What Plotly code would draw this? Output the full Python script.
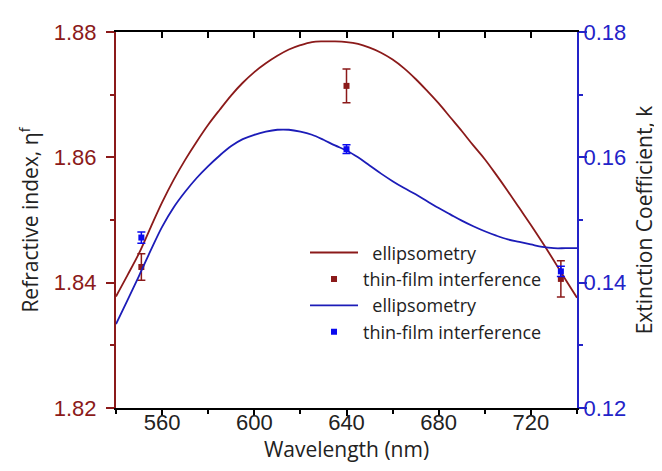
import plotly.graph_objects as go

# ---- data ----
wl = [540, 545, 550, 555, 560, 565, 570, 575, 580, 585, 590, 595, 600, 605, 610, 615,
      620, 625, 630, 635, 640, 645, 650, 655, 660, 665, 670, 675, 680, 685, 690, 695,
      700, 705, 710, 715, 720, 725, 730, 735, 740]
n_ellip = [1.8378, 1.8412, 1.8447, 1.8488, 1.8528, 1.8564, 1.8596, 1.8625, 1.8652, 1.8676,
           1.8699, 1.8719, 1.8736, 1.8750, 1.8762, 1.8772, 1.8779, 1.8784, 1.8785, 1.8785,
           1.8784, 1.8781, 1.8775, 1.8767, 1.8756, 1.8742, 1.8725, 1.8706, 1.8686, 1.8664,
           1.8642, 1.8619, 1.8597, 1.8572, 1.8546, 1.8519, 1.8492, 1.8464, 1.8435, 1.8405,
           1.8376]
k_ellip = [0.1334, 0.1372, 0.1411, 0.1451, 0.1489, 0.1520, 0.1545, 0.1567, 0.1586, 0.1603,
           0.1618, 0.1629, 0.1636, 0.1641, 0.1644, 0.1644, 0.1641, 0.1636, 0.1628, 0.1619,
           0.1611, 0.1600, 0.1587, 0.1574, 0.1562, 0.1551, 0.1541, 0.1530, 0.1519, 0.1509,
           0.1499, 0.1490, 0.1482, 0.1475, 0.1469, 0.1465, 0.1461, 0.1457, 0.1455, 0.1455,
           0.1455]

wl_tf = [551, 640, 733]
n_tf = [1.8425, 1.8714, 1.8406]
n_tf_err = [0.0021, 0.0027, 0.0029]
k_tf = [0.1472, 0.1613, 0.1418]
k_tf_err = [0.0009, 0.0007, 0.0008]

x_ticks = [560, 600, 640, 680, 720]
n_ticks = [1.82, 1.84, 1.86, 1.88]
k_ticks = [0.12, 0.14, 0.16, 0.18]

BROWN = "#8B1A1A"
BLUE_LINE = "#1C1CB8"
BLUE_MK = "#0A0AEE"
BLUE_AX = "#2323C8"
TXT = "#222222"

fig = go.Figure()
fig.add_trace(go.Scatter(x=wl, y=n_ellip, mode="lines", name="\u00a0\u00a0ellipsometry",
                         line=dict(color=BROWN, width=1.8, shape="spline"), yaxis="y"))
fig.add_trace(go.Scatter(x=wl_tf, y=n_tf, mode="markers", name="thin-film interference",
                         marker=dict(symbol="square", size=6, color=BROWN),
                         error_y=dict(type="data", array=n_tf_err, color=BROWN, thickness=1.5, width=4),
                         yaxis="y"))
fig.add_trace(go.Scatter(x=wl, y=k_ellip, mode="lines", name="\u00a0\u00a0ellipsometry",
                         line=dict(color=BLUE_LINE, width=1.8, shape="spline"), yaxis="y2"))
fig.add_trace(go.Scatter(x=wl_tf, y=k_tf, mode="markers", name="thin-film interference",
                         marker=dict(symbol="square", size=6, color=BLUE_MK),
                         error_y=dict(type="data", array=k_tf_err, color=BLUE_MK, thickness=1.5, width=4),
                         yaxis="y2"))
# invisible trace to host the top axis
fig.add_trace(go.Scatter(x=[540, 740], y=[1.82, 1.82], mode="lines", line=dict(width=0),
                         showlegend=False, hoverinfo="skip", xaxis="x2", yaxis="y"))

tickfont = dict(family="Liberation Sans, Arial", size=22)

fig.update_layout(
    width=662, height=471,
    margin=dict(l=108, r=93, t=19, b=71),
    paper_bgcolor="white", plot_bgcolor="white",
    font=dict(family="Open Sans", color=TXT),
    showlegend=True,
    legend=dict(x=0.41, y=0.462, xanchor="left", yanchor="top",
                bgcolor="rgba(0,0,0,0)", borderwidth=0,
                font=dict(family="Open Sans", size=18, color=TXT),
                tracegroupgap=0, itemwidth=48),
    xaxis=dict(range=[540, 740], tickvals=x_ticks, ticks="outside", ticklen=6, tickwidth=1.5,
               tickcolor="black", showline=True, linecolor="black", linewidth=2,
               showgrid=False, zeroline=False, tickfont=dict(tickfont, color=TXT),
               ticklabelstandoff=-12,
               minor=dict(dtick=20, tick0=540, ticks="outside", ticklen=4, tickwidth=1.5, tickcolor="black"),
               title=dict(text="Wavelength (nm)", font=dict(family="Open Sans", size=21, color=TXT),
                          standoff=7)),
    xaxis2=dict(range=[540, 740], overlaying="x", side="top", tickvals=x_ticks, ticks="inside",
                ticklen=6, tickwidth=1.5, tickcolor="black", showticklabels=False,
                showline=True, linecolor="black", linewidth=2, showgrid=False, zeroline=False,
                minor=dict(dtick=20, tick0=540, ticks="inside", ticklen=6, tickwidth=1.5, tickcolor="black")),
    yaxis=dict(range=[1.82, 1.88], tickvals=n_ticks, ticktext=[f"{v:.2f}" for v in n_ticks],
               ticks="outside", ticklen=8, tickwidth=1.5, tickcolor=BROWN,
               showline=True, linecolor=BROWN, linewidth=2, showgrid=False, zeroline=False,
               tickfont=dict(tickfont, color=BROWN), ticklabelstandoff=5,
               minor=dict(dtick=0.01, tick0=1.82, ticks="outside", ticklen=4, tickwidth=1.5, tickcolor=BROWN),
               title=dict(text="Refractive index, \u03b7<sup>f</sup>",
                          font=dict(family="Open Sans", size=21, color=TXT), standoff=9)),
    yaxis2=dict(range=[0.12, 0.18], overlaying="y", side="right", tickvals=k_ticks,
                ticktext=[f"{v:.2f}" for v in k_ticks],
                ticks="outside", ticklen=8, tickwidth=1.5, tickcolor=BLUE_AX,
                showline=True, linecolor=BLUE_AX, linewidth=2, showgrid=False, zeroline=False,
                tickfont=dict(tickfont, color=BLUE_AX), ticklabelstandoff=-8,
                minor=dict(dtick=0.01, tick0=0.12, ticks="outside", ticklen=4, tickwidth=1.5, tickcolor=BLUE_AX),
                title=dict(text="Extinction Coefficient, k",
                           font=dict(family="Open Sans", size=21, color=TXT), standoff=12)),
)

fig.write_html("out.html")
